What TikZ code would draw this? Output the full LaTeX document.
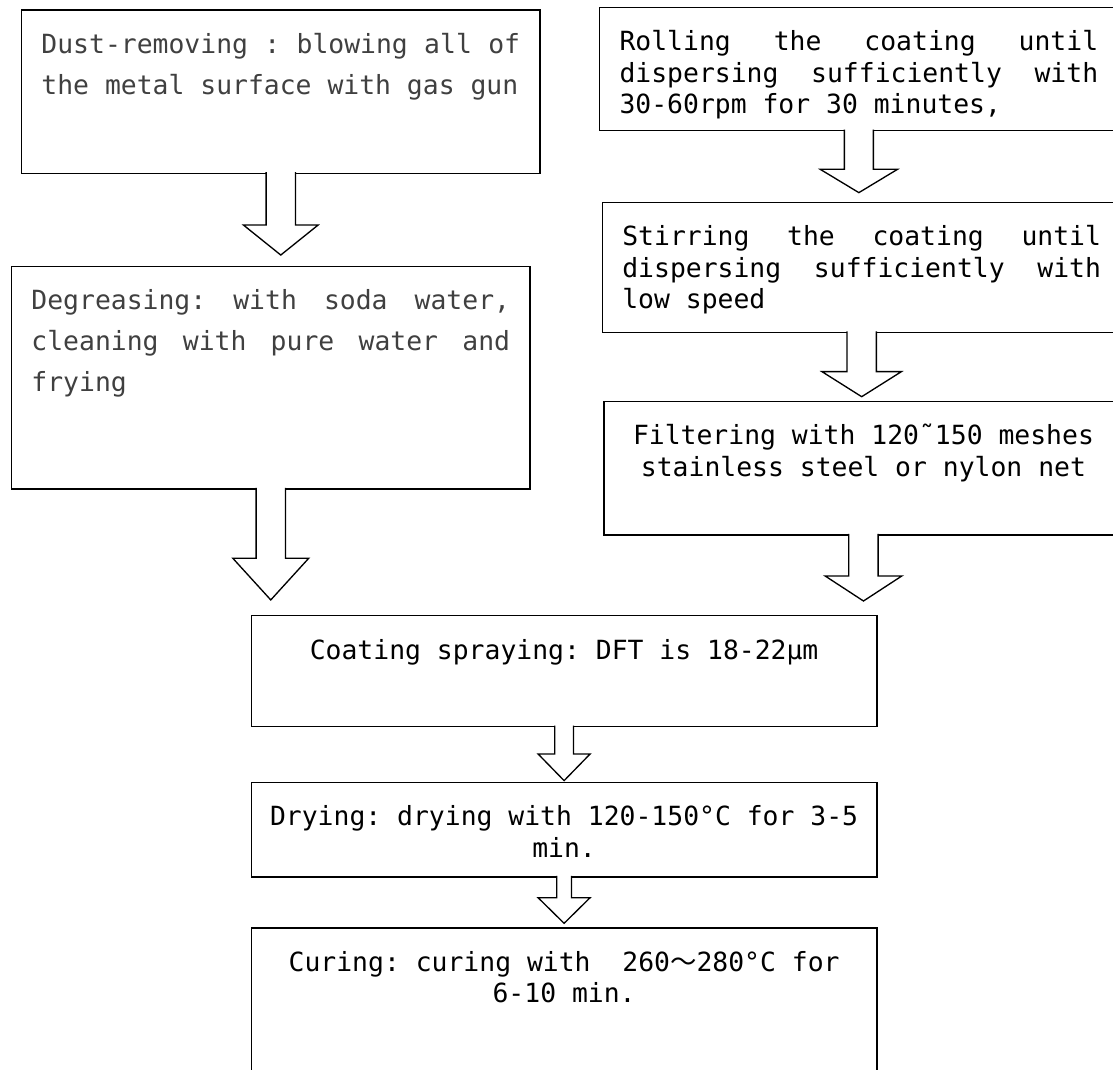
\documentclass[tikz,border=0pt]{standalone}
\usepackage{fontspec}
\usetikzlibrary{calc}
\newfontfamily\flowfont{DejaVu Sans Mono}
\newfontfamily\cjkfont{Noto Sans CJK SC}
\definecolor{inkgray}{HTML}{404040}

\begin{document}
\begin{tikzpicture}[x=0.75pt,y={(0,-0.75pt)},
	stepbox/.style={draw, line width=1.1pt, anchor=north west, inner xsep=15pt, inner ysep=0pt, text height=32.5pt, text width=359pt, align=justify, font=\flowfont\fontsize{19.8pt}{23.6pt}\selectfont},
	greybox/.style={stepbox, text=inkgray, font=\flowfont\fontsize{19.8pt}{30.75pt}\selectfont},
	midbox/.style={stepbox, inner xsep=8pt, text width=453pt, align=flush center},
	arrowshape/.style={draw, line width=1pt, fill=white}]
	% khung hinh
	\path[use as bounding box, fill=white] (0,0) rectangle (1113,1070);
	\clip (0,0) rectangle (1113,1070);
	% cho phep gian khoang trang, khong ngat tu
	\flowfont\fontsize{19.8pt}{23.6pt}\selectfont\fontdimen3\font=8pt\fontdimen4\font=2pt
	\hyphenpenalty=10000 \exhyphenpenalty=10000 \frenchspacing
	% mui ten rong: nguon, dich, nua than, nua dau, dai dau, khe
	\def\flowarrow#1#2#3#4#5#6{%
		\path[arrowshape] let \p1=(#1.south), \p2=(#2.north) in
		(\x1-#3,\y1+1.4pt) -- (\x1-#3,\y2+#6+#5) -- (\x1-#4,\y2+#6+#5) -- (\x1,\y2+#6)
		-- (\x1+#4,\y2+#6+#5) -- (\x1+#3,\y2+#6+#5) -- (\x1+#3,\y1+1.4pt);}
	% Cot trai
	\node[greybox, text depth=90pt] (dust) at (20.7,9.3) {Dust-removing : blowing all of\linebreak the metal surface with gas gun};
	\node[greybox, text depth=134.5pt] (degrease) at (10.7,265.7) {Degreasing: with soda water,\linebreak cleaning with pure water and\linebreak frying};
	% Cot phai
	\node[stepbox, text depth=60pt] (roll) at (598.8,6.7) {Rolling the coating until\linebreak dispersing sufficiently with\linebreak 30-60rpm for 30 minutes,};
	\node[stepbox, text depth=65pt] (stir) at (601.6,201.7) {Stirring the coating until\linebreak dispersing sufficiently with\linebreak low speed};
	\node[stepbox, align=flush center, text depth=67.7pt] (filter) at (603.4,400.7) {Filtering with 120˜150 meshes\\stainless steel or nylon net};
	% Cot giua
	\node[midbox, text depth=50.75pt] (spray) at (250.7,615) {Coating spraying: DFT is 18-22μm};
	\node[midbox, text depth=38.5pt] (dry) at (250.7,781.7) {Drying: drying with 120-150°C for 3-5\\min.};
	\node[midbox, text depth=78.5pt] (cure) at (250.7,927.3) {Curing: curing with\ \ 260{\cjkfont ～}280°C for\\6-10 min.};
	% Ve cac mui ten
	\flowarrow{dust}{degrease}{11pt}{28pt}{22.5pt}{8pt}
	\flowarrow{degrease}{spray}{11pt}{28.5pt}{31.3pt}{11.3pt}
	\flowarrow{roll}{stir}{10.9pt}{29pt}{17.5pt}{6.8pt}
	\flowarrow{stir}{filter}{11pt}{29.8pt}{18.8pt}{3pt}
	\flowarrow{filter}{spray}{11pt}{28.8pt}{18.8pt}{10.5pt}
	\flowarrow{spray}{dry}{7pt}{19.5pt}{20pt}{0.8pt}
	\flowarrow{dry}{cure}{5.5pt}{19.5pt}{19.2pt}{3pt}
\end{tikzpicture}
\end{document}
